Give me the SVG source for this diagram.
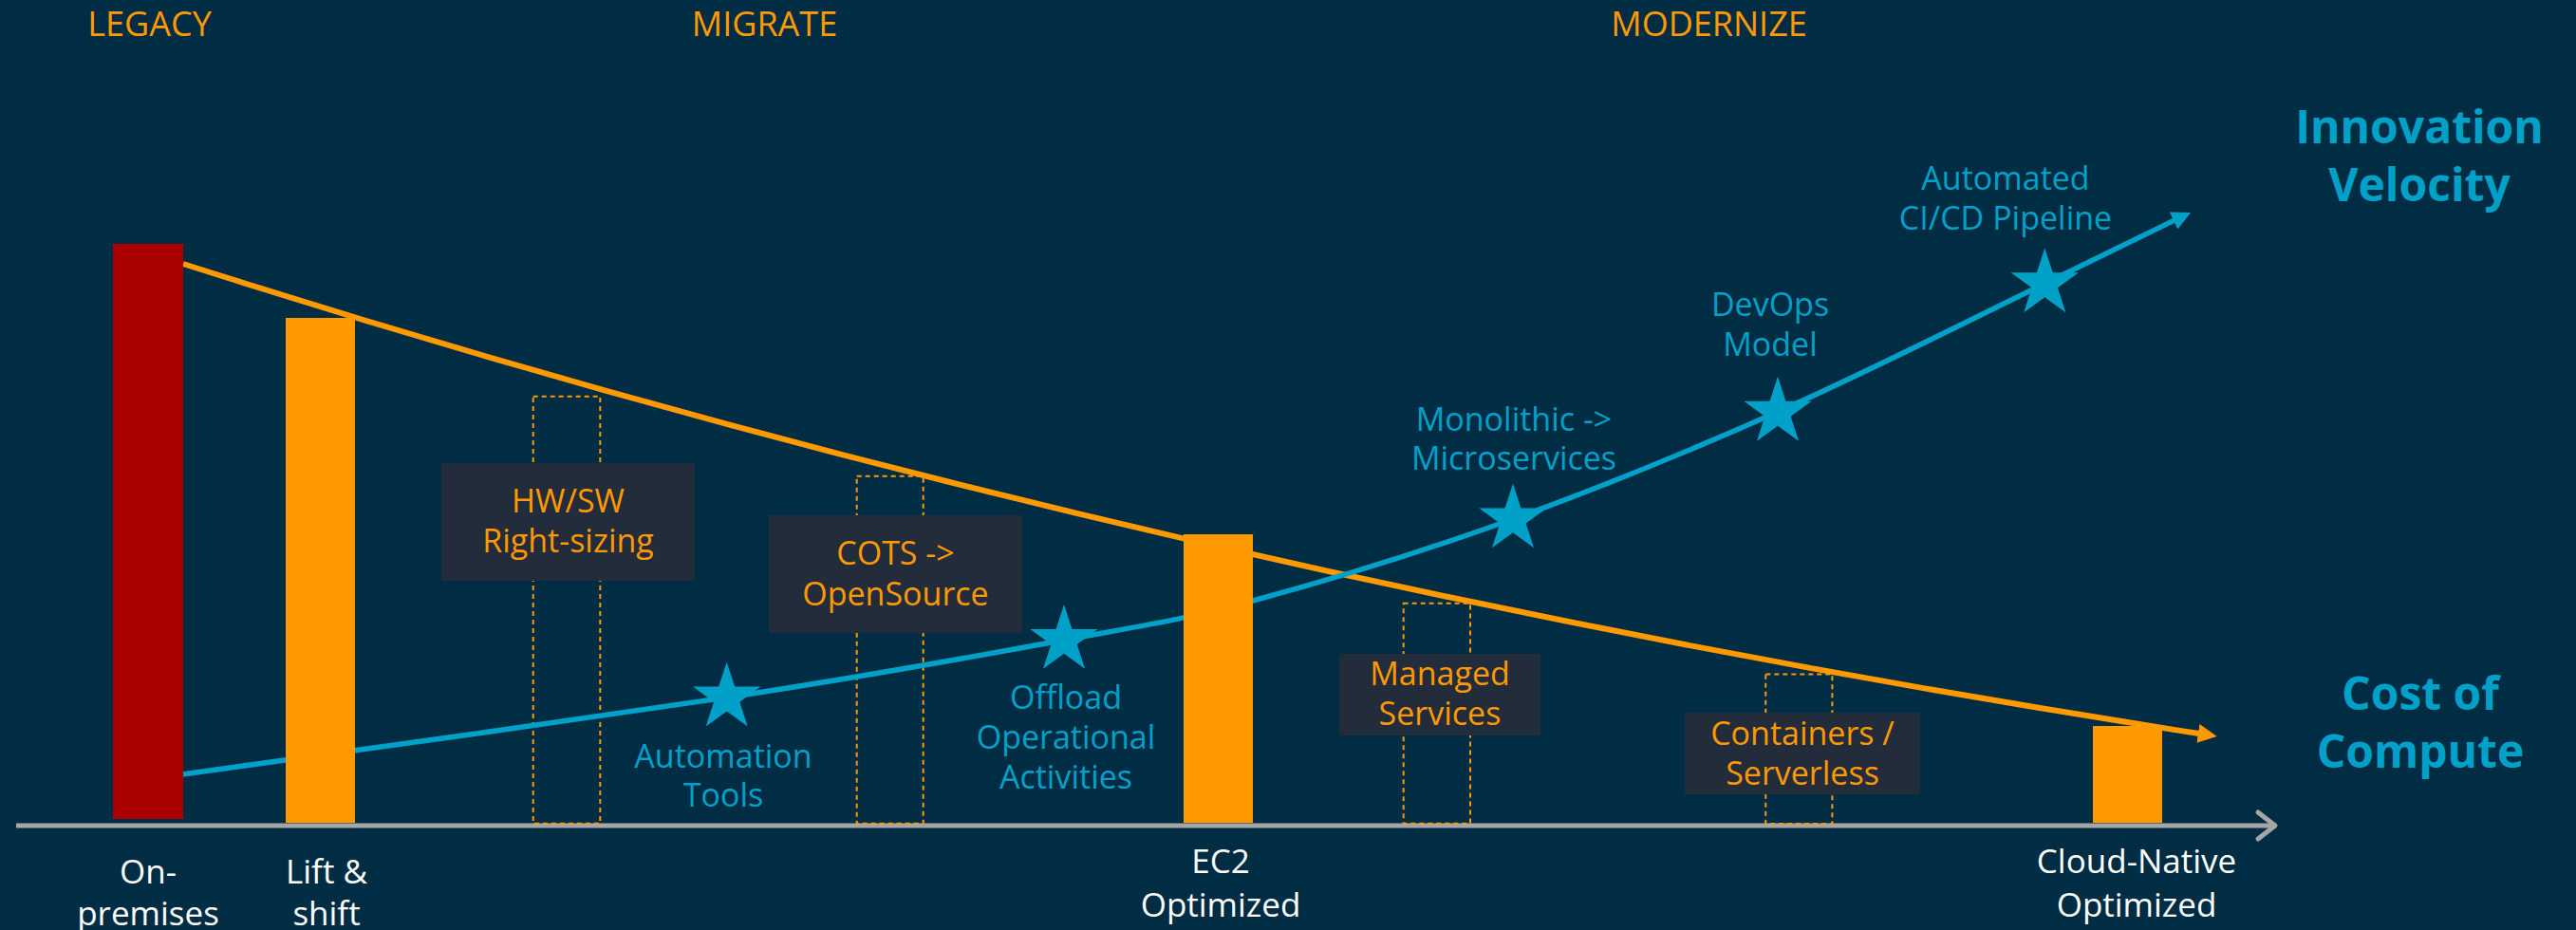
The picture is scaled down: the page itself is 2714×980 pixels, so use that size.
<svg xmlns="http://www.w3.org/2000/svg" width="2714" height="980" viewBox="0 0 2714 980">
  <defs>
    <style>
      .hdr { font-family: "Open Sans", "Liberation Sans", sans-serif; font-size: 36px; fill: #ff9900; text-anchor: middle; }
      .lbl { font-family: "Open Sans", "Liberation Sans", sans-serif; font-size: 34px; text-anchor: middle; }
      .org { fill: #ff9900; }
      .blu { fill: #00a1c9; }
      .wht { font-family: "Open Sans", "Liberation Sans", sans-serif; font-size: 35px; fill: #ffffff; text-anchor: middle; }
      .big { font-family: "Open Sans", "Liberation Sans", sans-serif; font-size: 48px; font-weight: bold; fill: #00a1c9; text-anchor: middle; }
      .box { fill: #232c3b; }
      .dash { fill: none; stroke: #ff9900; stroke-width: 2; stroke-dasharray: 5 4; }
      .bar { fill: #ff9900; }
      .star { fill: #00a1c9; }
    </style>
    <marker id="arrO" markerUnits="userSpaceOnUse" markerWidth="20" markerHeight="20" viewBox="0 0 18 18" refX="1" refY="9" orient="auto">
      <path d="M0,0 L18,9 L0,18 Z" fill="#ff9900"/>
    </marker>
    <marker id="arrB" markerUnits="userSpaceOnUse" markerWidth="20" markerHeight="20" viewBox="0 0 18 18" refX="1" refY="9" orient="auto">
      <path d="M0,0 L18,9 L0,18 Z" fill="#00a1c9"/>
    </marker>
    <path id="starShape" d="M0,-37.5 L8.42,-11.59 L35.66,-11.59 L13.63,4.43 L22.04,30.34 L0,14.33 L-22.04,30.34 L-13.63,4.43 L-35.66,-11.59 L-8.42,-11.59 Z"/>
  </defs>

  <rect width="2714" height="980" fill="#002d44"/>

  <g id="headers">
    <text class="hdr" x="157.5" y="38">LEGACY</text>
    <text class="hdr" x="805.5" y="38">MIGRATE</text>
    <text class="hdr" x="1800.5" y="38">MODERNIZE</text>
  </g>

  <g id="axis">
    <path d="M17,870 H2396" stroke="#a6a6a6" stroke-width="5" fill="none"/>
    <polyline points="2379,856 2397,870 2379,884" stroke="#a6a6a6" stroke-width="5" fill="none" stroke-linecap="round" stroke-linejoin="round"/>
  </g>

  <g id="dashed-markers">
    <rect class="dash" x="561.7" y="417.7" width="70.6" height="450"/>
    <rect class="dash" x="902.7" y="501.7" width="70" height="366"/>
    <rect class="dash" x="1478.7" y="635.7" width="70.3" height="232"/>
    <rect class="dash" x="1860.3" y="710.4" width="70.1" height="157.6"/>
  </g>

  <g id="connectors">
    <path id="cost-curve" d="M193,278 C906,506 1610,663.4 2317,773" fill="none" stroke="#ff9900" stroke-width="6" marker-end="url(#arrO)"/>
    <path id="velocity-curve" d="M192,816 C287.7,802.5 611.2,758.6 766,735 C920.8,711.4 1028.7,691.5 1121,674.5 C1213.3,657.5 1241.2,654.25 1320,633 C1398.8,611.75 1501.8,580.2 1594,547 C1686.2,513.8 1779.7,475.3 1873,434 C1966.3,392.7 2084.5,332.7 2154,299 C2223.5,265.3 2267.3,243.2 2291,232" fill="none" stroke="#00a1c9" stroke-width="5.5" marker-end="url(#arrB)"/>
  </g>

  <g id="bar-onprem"><rect x="119" y="257" width="74" height="606" fill="#aa0000"/></g>
  <g id="bar-lift"><rect class="bar" x="301" y="335" width="73" height="532"/></g>
  <g id="bar-ec2"><rect class="bar" x="1247" y="563" width="73" height="304"/></g>
  <g id="bar-cloud"><rect class="bar" x="2205" y="765" width="73" height="102"/></g>

  <g id="box-hwsw">
    <rect class="box" x="465" y="488" width="267" height="124"/>
    <text class="lbl org" x="598.5" y="540">HW/SW</text>
    <text class="lbl org" x="598.5" y="582">Right-sizing</text>
  </g>
  <g id="box-cots">
    <rect class="box" x="810" y="543" width="267" height="124"/>
    <text class="lbl org" x="943.5" y="595">COTS -&gt;</text>
    <text class="lbl org" x="943.5" y="637.5">OpenSource</text>
  </g>
  <g id="box-managed">
    <rect class="box" x="1411" y="689" width="212" height="86"/>
    <text class="lbl org" x="1517" y="722">Managed</text>
    <text class="lbl org" x="1517" y="764">Services</text>
  </g>
  <g id="box-containers">
    <rect class="box" x="1775" y="751" width="248" height="86"/>
    <text class="lbl org" x="1899" y="785">Containers /</text>
    <text class="lbl org" x="1899" y="827">Serverless</text>
  </g>

  <g id="star-automation">
    <use href="#starShape" class="star" x="765.7" y="735.2"/>
    <text class="lbl blu" x="762" y="809">Automation</text>
    <text class="lbl blu" x="762" y="850">Tools</text>
  </g>
  <g id="star-offload">
    <use href="#starShape" class="star" x="1121" y="674.5"/>
    <text class="lbl blu" x="1123" y="747">Offload</text>
    <text class="lbl blu" x="1123" y="789">Operational</text>
    <text class="lbl blu" x="1123" y="831">Activities</text>
  </g>
  <g id="star-micro">
    <use href="#starShape" class="star" x="1594" y="547"/>
    <text class="lbl blu" x="1595" y="454">Monolithic -&gt;</text>
    <text class="lbl blu" x="1595" y="495">Microservices</text>
  </g>
  <g id="star-devops">
    <use href="#starShape" class="star" x="1873" y="434.3"/>
    <text class="lbl blu" x="1865" y="333">DevOps</text>
    <text class="lbl blu" x="1865" y="375">Model</text>
  </g>
  <g id="star-cicd">
    <use href="#starShape" class="star" x="2154.3" y="298.9"/>
    <text class="lbl blu" x="2113" y="200">Automated</text>
    <text class="lbl blu" x="2113" y="242">CI/CD Pipeline</text>
  </g>

  <g id="title-velocity">
    <text class="big" x="2549" y="151">Innovation</text>
    <text class="big" x="2549" y="212">Velocity</text>
  </g>
  <g id="title-cost">
    <text class="big" x="2550" y="748">Cost of</text>
    <text class="big" x="2550" y="809">Compute</text>
  </g>

  <g id="xlabels">
    <text class="wht" x="156" y="931">On-</text>
    <text class="wht" x="156" y="975">premises</text>
    <text class="wht" x="344" y="931">Lift &amp;</text>
    <text class="wht" x="344" y="975">shift</text>
    <text class="wht" x="1286" y="920">EC2</text>
    <text class="wht" x="1286" y="966">Optimized</text>
    <text class="wht" x="2251" y="920">Cloud-Native</text>
    <text class="wht" x="2251" y="966">Optimized</text>
  </g>
</svg>
